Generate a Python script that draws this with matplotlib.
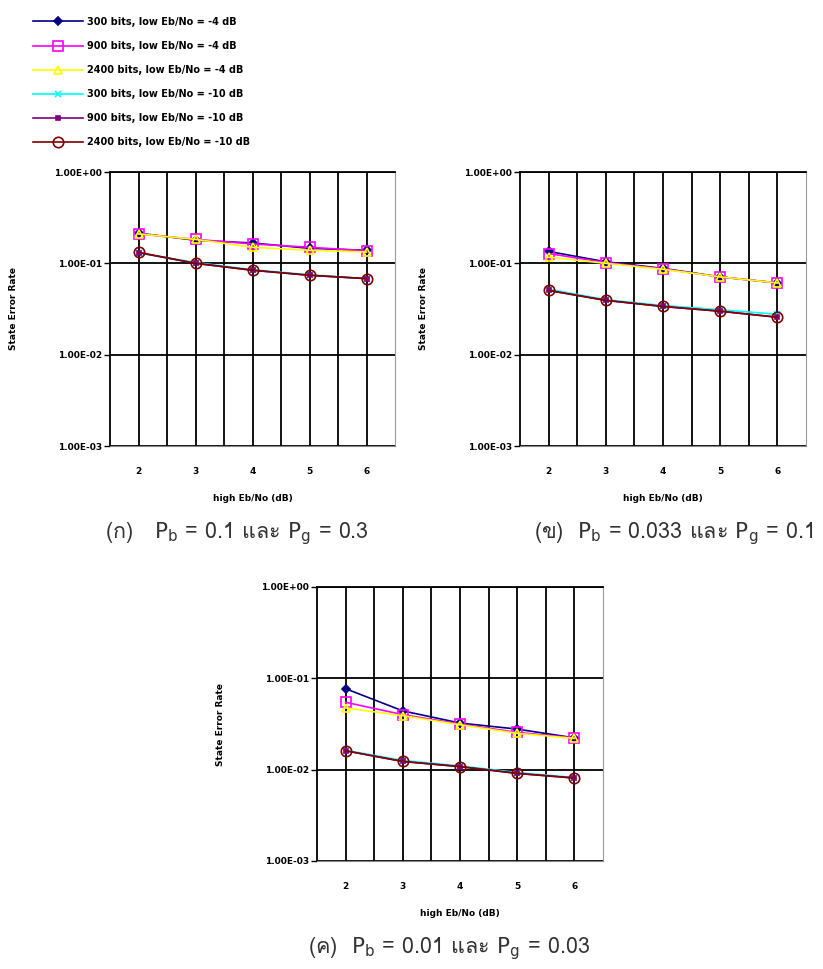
import numpy as np
import matplotlib
matplotlib.use('Agg')
import matplotlib.pyplot as plt
from matplotlib import font_manager, ft2font

# find an installed font that has Thai glyphs for the captions
thai_family = None
for f in font_manager.fontManager.ttflist:
    try:
        cmap = ft2font.FT2Font(f.fname).get_charmap()
    except Exception:
        continue
    if 0x0E01 in cmap:
        thai_family = f.name
        break
cap_fonts = ([thai_family] if thai_family else []) + ['DejaVu Sans']

snr = [2, 3, 4, 5, 6]
labels = ['300 bits, low Eb/No = -4 dB',
          '900 bits, low Eb/No = -4 dB',
          '2400 bits, low Eb/No = -4 dB',
          '300 bits, low Eb/No = -10 dB',
          '900 bits, low Eb/No = -10 dB',
          '2400 bits, low Eb/No = -10 dB']

# (a) Pb = 0.1, Pg = 0.3
ser_a = [
    [0.214, 0.179, 0.167, 0.146, 0.139],
    [0.210, 0.183, 0.163, 0.150, 0.137],
    [0.210, 0.183, 0.150, 0.139, 0.133],
    [0.130, 0.102, 0.085, 0.075, 0.068],
    [0.131, 0.100, 0.084, 0.074, 0.068],
    [0.132, 0.100, 0.084, 0.074, 0.068],
]
# (b) Pb = 0.033, Pg = 0.1
ser_b = [
    [0.135, 0.104, 0.088, 0.071, 0.061],
    [0.128, 0.102, 0.087, 0.071, 0.061],
    [0.117, 0.100, 0.086, 0.071, 0.061],
    [0.052, 0.040, 0.0345, 0.031, 0.0277],
    [0.0505, 0.0393, 0.0337, 0.0299, 0.0257],
    [0.0505, 0.0393, 0.0337, 0.0299, 0.0257],
]
# (c) Pb = 0.01, Pg = 0.03
ser_c = [
    [0.077, 0.044, 0.0324, 0.0278, 0.0223],
    [0.0547, 0.040, 0.0316, 0.0256, 0.0223],
    [0.0474, 0.039, 0.031, 0.025, 0.022],
    [0.0163, 0.0126, 0.0110, 0.0093, 0.0082],
    [0.0161, 0.0123, 0.0108, 0.0091, 0.0081],
    [0.0161, 0.0123, 0.0108, 0.0091, 0.0081],
]

captions = [r'(ก)   $\mathrm{P_b}$ = 0.1 และ $\mathrm{P_g}$ = 0.3',
            r'(ข)  $\mathrm{P_b}$ = 0.033 และ $\mathrm{P_g}$ = 0.1',
            r'(ค)  $\mathrm{P_b}$ = 0.01 และ $\mathrm{P_g}$ = 0.03']
cap_x = [237, 674, 449]

colors = ['#000080', '#FF00FF', '#FFFF00', '#00FFFF', '#800080', '#800000']
markers = ['D', 's', '^', 'x', 's', 'o']
msizes = [4, 6.5, 6, 5, 3.5, 7.5]
filled = [True, False, False, True, True, False]

ytick_labels = ['1.00E-03', '1.00E-02', '1.00E-01', '1.00E+00']

W, H = 823, 969
fig = plt.figure(figsize=(W / 100, H / 100), dpi=100)

# axes boxes in pixels: left, right, top, bottom
boxes = [(110, 395, 172, 446), (520, 806, 172, 446), (317, 603, 587, 861)]
all_data = [ser_a, ser_b, ser_c]

tick_font = dict(fontsize=6.5, fontweight='bold', family='DejaVu Sans')

axes = []
for (l, r, t, b), data, cap, cx in zip(boxes, all_data, captions, cap_x):
    ax = fig.add_axes([l / W, 1 - b / H, (r - l) / W, (b - t) / H])
    axes.append(ax)
    for i in range(6):
        ax.plot(snr, data[i], color=colors[i], marker=markers[i], ms=msizes[i],
                mfc=colors[i] if filled[i] else 'none', mec=colors[i],
                mew=1.2, lw=1.2, label=labels[i])
    ax.set_yscale('log')
    ax.set_ylim(1e-3, 1)
    ax.set_xlim(1.5, 6.5)
    ax.set_yticks([1e-3, 1e-2, 1e-1, 1])
    ax.set_yticklabels(ytick_labels, **tick_font)
    ax.yaxis.set_minor_locator(matplotlib.ticker.NullLocator())
    ax.set_xticks(snr)
    ax.set_xticklabels([str(s) for s in snr], **tick_font)
    ax.set_xticks([2.5, 3.5, 4.5, 5.5], minor=True)
    ax.tick_params(axis='x', which='both', length=0, pad=15)
    ax.tick_params(axis='y', which='major', length=4, width=1, direction='out', pad=2)
    ax.grid(True, axis='x', which='both', color='black', lw=1.3)
    ax.grid(True, axis='y', which='major', color='black', lw=1.3)
    ax.set_axisbelow(True)
    ax.spines['left'].set_linewidth(1.3)
    ax.spines['top'].set_linewidth(1.3)
    ax.spines['right'].set_color('#999999')
    ax.spines['bottom'].set_color('#888888')
    ax.set_xlabel('high Eb/No (dB)', fontsize=6.5, fontweight='bold', labelpad=13)
    ax.set_ylabel('State Error Rate', fontsize=6.5, fontweight='bold')
    ax.yaxis.set_label_coords(-92 / (r - l), 0.5)
    fig.text(cx / W, 1 - (b + 88) / H, cap, ha='center', va='center',
             fontsize=15.5, family=cap_fonts, color='#333333')

handles, lbls = axes[0].get_legend_handles_labels()
fig.legend(handles, lbls, loc='upper left', bbox_to_anchor=(29 / W, 1 - 13 / H),
           frameon=False, prop=dict(size=7, weight='bold'), handlelength=5.2,
           handletextpad=0.4, labelspacing=1.45, borderaxespad=0)

fig.savefig('out.png', dpi=100)
